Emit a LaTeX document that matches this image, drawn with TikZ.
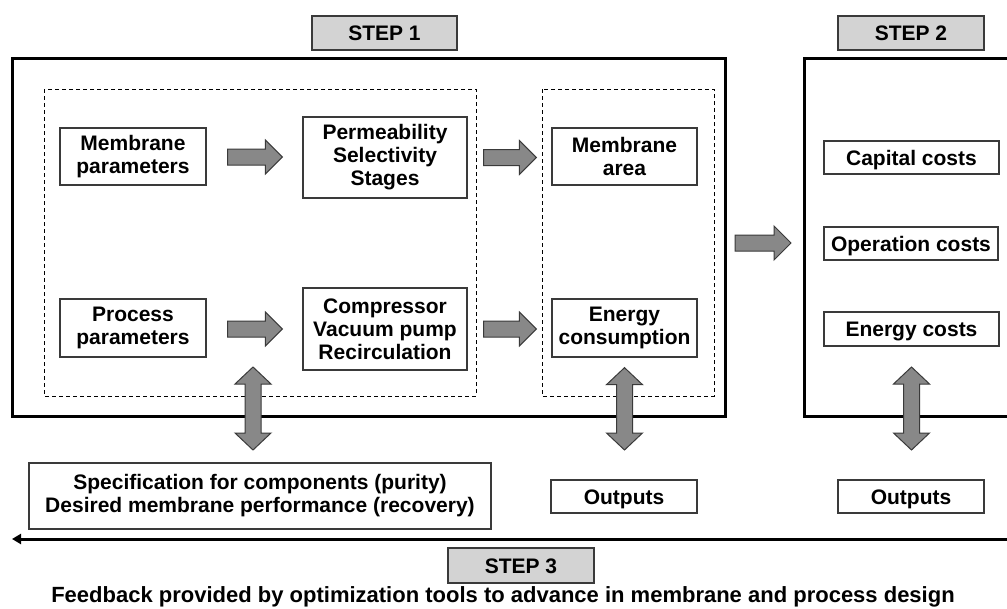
\documentclass[tikz,border=0pt]{standalone}
\usepackage{fontspec}
\setmainfont{Liberation Sans}
\usetikzlibrary{calc,arrows.meta}
\definecolor{boxline}{HTML}{3A3A3A}
\definecolor{labelfill}{HTML}{D3D3D3}
\definecolor{arrowfill}{HTML}{888888}
\tikzset{
  txt/.style={font=\fontsize{21}{23}\selectfont\bfseries, align=center},
  bigtxt/.style={font=\fontsize{22}{24}\selectfont\bfseries, align=center},
  tbox/.style={txt, draw=boxline, line width=1.3pt, fill=white, inner sep=0pt},
  onebox/.style={tbox, text depth=0pt, text height=15pt},
  lbox/.style={txt, draw=boxline, line width=1.3pt, fill=labelfill, inner sep=0pt, text depth=0pt, text height=15pt},
  frame/.style={draw=black, line width=3pt},
  dashbox/.style={draw=black, line width=0.9pt, dash pattern=on 4pt off 3pt},
  blockarrow/.style={draw=boxline, line width=1pt, fill=arrowfill, line join=miter},
}
\newcommand{\HArrow}[2]{%
  \draw[blockarrow] ($(#1)+(0,-8)$) -- ($(#2)+(-17,-8)$) -- ($(#2)+(-17,-17)$) -- (#2)
    -- ($(#2)+(-17,17)$) -- ($(#2)+(-17,8)$) -- ($(#1)+(0,8)$) -- cycle;}
\newcommand{\VDArrow}[2]{%
  \draw[blockarrow] (#1) -- ($(#1)+(18,17)$) -- ($(#1)+(8,17)$) -- ($(#2)+(8,-17)$)
    -- ($(#2)+(18,-17)$) -- (#2) -- ($(#2)+(-18,-17)$) -- ($(#2)+(-8,-17)$)
    -- ($(#1)+(-8,17)$) -- ($(#1)+(-18,17)$) -- cycle;}
\begin{document}
\begin{tikzpicture}[x=1pt,y=-1pt]
\useasboundingbox[fill=white] (0,0) rectangle (1007,608);

% frames
\draw[frame] (12.5,58.5) rectangle (725,416.5);
\draw[frame] (1010,58.5) -- (804.5,58.5) -- (804.5,416.5) -- (1010,416.5);
\draw[dashbox] (44,89) rectangle (476,396);
\draw[dashbox] (542,89) rectangle (714,396);

% step labels
\node[lbox, minimum width=145pt, minimum height=34pt] (s1) at (384.5,33) {STEP 1};
\node[lbox, minimum width=146pt, minimum height=34pt] (s2) at (911,33) {STEP 2};
\node[lbox, minimum width=146pt, minimum height=35pt] (s3) at (521,565.5) {STEP 3};

% step 1 boxes
\node[tbox, minimum width=146pt, minimum height=57pt] (mp) at (133,156.5) {Membrane\\parameters};
\node[tbox, minimum width=164pt, minimum height=81pt] (pe) at (385,157.5) {Permeability\\Selectivity\\Stages};
\node[tbox, minimum width=145pt, minimum height=57pt] (ma) at (624.5,156.5) {Membrane\\area};
\node[tbox, minimum width=146pt, minimum height=58pt] (pp) at (133,328) {Process\\parameters};
\node[tbox, minimum width=164pt, minimum height=82pt] (cv) at (385,329) {Compressor\\Vacuum pump\\Recirculation};
\node[tbox, minimum width=145pt, minimum height=58pt] (ec) at (624.5,328) {Energy\\consumption};

% step 2 boxes
\node[onebox, minimum width=175pt, minimum height=33pt] (cap) at (911.5,157.5) {Capital costs};
\node[onebox, minimum width=174pt, minimum height=33pt] (op) at (911,243.5) {Operation costs};
\node[onebox, minimum width=175pt, minimum height=34pt] (en) at (911.5,329) {Energy costs};

% bottom boxes
\node[tbox, minimum width=462pt, minimum height=66pt] (spec) at (260,496) {Specification for components (purity)\\Desired membrane performance (recovery)};
\node[onebox, minimum width=146pt, minimum height=33pt] (o1) at (624,496.5) {Outputs};
\node[onebox, minimum width=146pt, minimum height=33pt] (o2) at (911,496.5) {Outputs};

\node[bigtxt, anchor=base] (fb) at (503,602) {Feedback provided by optimization tools to advance in membrane and process design};

% horizontal block arrows
\coordinate (a1s) at ($(mp.east)+(21,0.5)$);
\coordinate (a1e) at (a1s -| {$(pe.west)+(-20,0)$});
\HArrow{a1s}{a1e}
\coordinate (a2s) at ($(pe.east)+(16,0)$);
\coordinate (a2e) at (a2s -| {$(ma.west)+(-15,0)$});
\HArrow{a2s}{a2e}
\coordinate (a3s) at ($(pp.east)+(21,1)$);
\coordinate (a3e) at (a3s -| {$(cv.west)+(-20,0)$});
\HArrow{a3s}{a3e}
\coordinate (a4s) at ($(cv.east)+(16,0)$);
\coordinate (a4e) at (a4s -| {$(ec.west)+(-15,0)$});
\HArrow{a4s}{a4e}
\coordinate (a5s) at (735,243);
\coordinate (a5e) at (791,243);
\HArrow{a5s}{a5e}

% vertical double arrows
\coordinate (d1t) at (253,367);
\coordinate (d1b) at (253,450);
\VDArrow{d1t}{d1b}
\coordinate (d2t) at ($(ec.south)+(0,10)$);
\coordinate (d2b) at (d2t |- d1b);
\VDArrow{d2t}{d2b}
\coordinate (d3t) at (en.south |- d1t);
\coordinate (d3b) at (en.south |- d1b);
\VDArrow{d3t}{d3b}

% feedback arrow
\coordinate (fbR) at (1010,539);
\coordinate (fbL) at (12,539);
\draw[line width=3pt, -{Triangle[length=9pt,width=10pt]}] (fbR) -- (fbL);
\end{tikzpicture}
\end{document}
